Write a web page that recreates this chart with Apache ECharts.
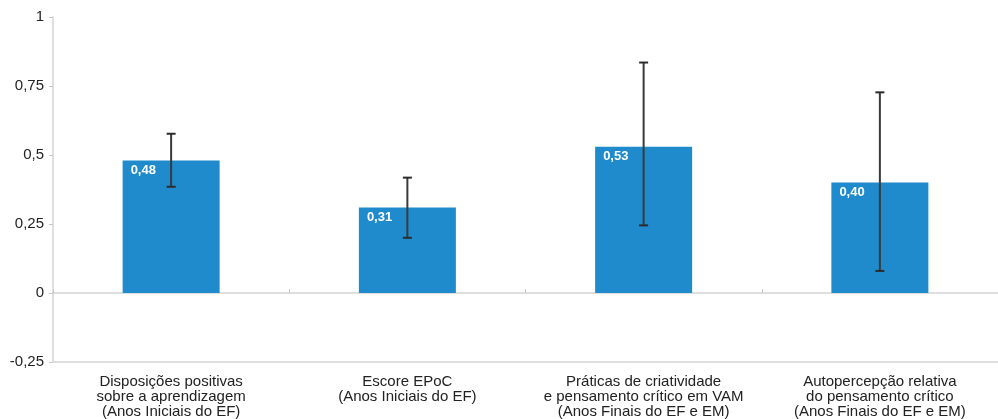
<!DOCTYPE html>
<html><head><meta charset="utf-8">
<script src="https://cdn.jsdelivr.net/npm/echarts@6/dist/echarts.min.js"></script>
<style>html,body{margin:0;padding:0;background:#fff}#c{width:998px;height:419px}</style>
</head><body><div id="c"></div>
<script>
var categories = [
  "Disposições positivas\nsobre a aprendizagem\n(Anos Iniciais do EF)",
  "Escore EPoC\n(Anos Iniciais do EF)",
  "Práticas de criatividade\ne pensamento crítico em VAM\n(Anos Finais do EF e EM)",
  "Autopercepção relativa\ndo pensamento crítico\n(Anos Finais do EF e EM)"
];
var values = [0.48, 0.31, 0.53, 0.40];
var errLow = [0.385, 0.20, 0.245, 0.08];
var errHigh = [0.577, 0.418, 0.835, 0.727];
var yTicks = [-0.25, 0, 0.25, 0.5, 0.75, 1];

var chart = echarts.init(document.getElementById('c'));
var fmt = function (v) { return String(v).replace('.', ','); };
chart.setOption({
  animation: false,
  textStyle: { fontFamily: 'Liberation Sans, Arial, sans-serif' },
  grid: { left: 53, right: 0, top: 17, bottom: 57 },
  xAxis: [{
    type: 'category', data: categories, position: 'bottom',
    axisLine: { onZero: false, lineStyle: { color: '#d4d4d4', width: 1.5 } },
    axisTick: { show: false },
    axisLabel: { color: '#222', fontSize: 15, lineHeight: 15, margin: 12, interval: 0 }
  }, {
    type: 'category', data: categories, position: 'bottom',
    axisLine: { onZero: true, lineStyle: { color: '#d4d4d4', width: 1.5 } },
    axisTick: { show: true, inside: true, length: 4, lineStyle: { color: '#c8c8c8' } },
    axisLabel: { show: false }
  }],
  yAxis: {
    type: 'value', min: yTicks[0], max: yTicks[yTicks.length - 1], interval: 0.25,
    axisLine: { show: true, lineStyle: { color: '#d4d4d4', width: 1.5 } },
    axisTick: { show: true, length: 4, lineStyle: { color: '#c8c8c8' } },
    splitLine: { show: false },
    axisLabel: { color: '#222', fontSize: 15, margin: 9, formatter: fmt }
  },
  series: [{
    type: 'bar', data: values, barWidth: 97, xAxisIndex: 0,
    itemStyle: { color: '#1f8bcc' },
    label: {
      show: true, position: [8, 3], color: '#fff', fontWeight: 'bold', fontSize: 13,
      formatter: function (p) { return p.value.toFixed(2).replace('.', ','); }
    }
  }, {
    type: 'custom', xAxisIndex: 0, z: 10,
    data: values.map(function (v, i) { return [i, errLow[i], errHigh[i]]; }),
    renderItem: function (params, api) {
      var lo = api.coord([api.value(0), api.value(1)]);
      var hi = api.coord([api.value(0), api.value(2)]);
      var hw = 4.5;
      var st = { stroke: '#2b2b2b', lineWidth: 2 };
      return { type: 'group', children: [
        { type: 'line', shape: { x1: hi[0], y1: hi[1], x2: lo[0], y2: lo[1] }, style: { stroke: '#3a3a3a', lineWidth: 2 } },
        { type: 'line', shape: { x1: hi[0] - hw, y1: hi[1], x2: hi[0] + hw, y2: hi[1] }, style: st },
        { type: 'line', shape: { x1: lo[0] - hw, y1: lo[1], x2: lo[0] + hw, y2: lo[1] }, style: st }
      ] };
    }
  }]
});
</script></body></html>
